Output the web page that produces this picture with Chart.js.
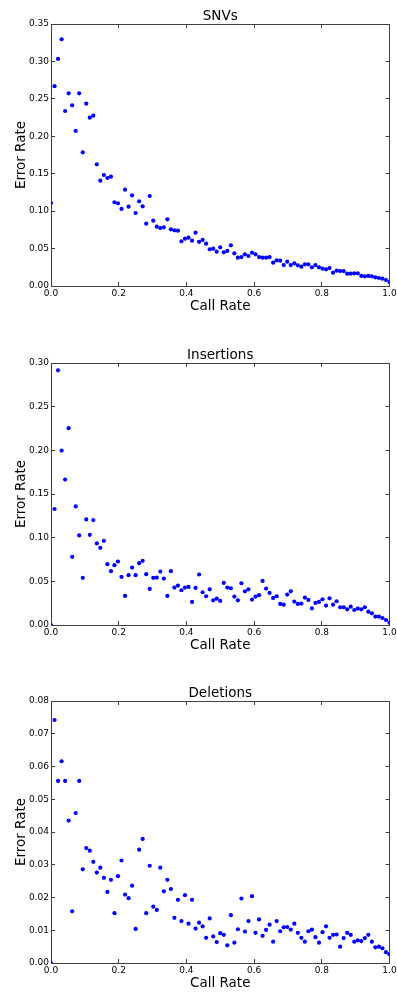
<!DOCTYPE html>
<html>
<head>
<meta charset="utf-8">
<script src="https://cdn.jsdelivr.net/npm/chart.js@4.4.1/dist/chart.umd.min.js"></script>
<style>
  html, body { margin: 0; padding: 0; background: #fff; overflow: hidden; }
  .panel { position: absolute; left: 0; width: 397px; height: 320px; }
</style>
</head>
<body>
<div class="panel" style="top:0px"><canvas id="snvChart" width="397" height="320"></canvas></div>
<div class="panel" style="top:339px"><canvas id="insChart" width="397" height="320"></canvas></div>
<div class="panel" style="top:677px"><canvas id="delChart" width="397" height="320"></canvas></div>
<script>
// Call-rate thresholds shared by all three panels
const callRate = [
  0, 0.0104, 0.0208, 0.0313, 0.0417, 0.0521, 0.0625, 0.0729, 0.0833, 0.0938,
  0.1042, 0.1146, 0.125, 0.1354, 0.1458, 0.1563, 0.1667, 0.1771, 0.1875, 0.1979,
  0.2083, 0.2188, 0.2292, 0.2396, 0.25, 0.2604, 0.2708, 0.2813, 0.2917, 0.3021,
  0.3125, 0.3229, 0.3333, 0.3438, 0.3542, 0.3646, 0.375, 0.3854, 0.3958, 0.4063,
  0.4167, 0.4271, 0.4375, 0.4479, 0.4583, 0.4688, 0.4792, 0.4896, 0.5, 0.5104,
  0.5208, 0.5313, 0.5417, 0.5521, 0.5625, 0.5729, 0.5833, 0.5938, 0.6042, 0.6146,
  0.625, 0.6354, 0.6458, 0.6563, 0.6667, 0.6771, 0.6875, 0.6979, 0.7083, 0.7188,
  0.7292, 0.7396, 0.75, 0.7604, 0.7708, 0.7813, 0.7917, 0.8021, 0.8125, 0.8229,
  0.8333, 0.8438, 0.8542, 0.8646, 0.875, 0.8854, 0.8958, 0.9063, 0.9167, 0.9271,
  0.9375, 0.9479, 0.9583, 0.9688, 0.9792, 0.9896, 1
];

// Error rate per call-rate threshold
const snvError = [
  0.1109, 0.267, 0.3033, 0.3295, 0.2338, 0.2574, 0.2413, 0.2071, 0.2574, 0.1786,
  0.2436, 0.2249, 0.2275, 0.1625, 0.1407, 0.1483, 0.1443, 0.1461, 0.1118, 0.1104,
  0.1029, 0.1287, 0.106, 0.1211, 0.0975, 0.1131, 0.1064, 0.0833, 0.1202, 0.0873,
  0.0793, 0.0775, 0.0784, 0.0891, 0.0757, 0.0744, 0.0739, 0.0597, 0.0632, 0.0646,
  0.0606, 0.0712, 0.059, 0.0615, 0.0566, 0.049, 0.0499, 0.0459, 0.0517, 0.045,
  0.0468, 0.0543, 0.0436, 0.0378, 0.0387, 0.0423, 0.0401, 0.0445, 0.0423, 0.0387,
  0.0378, 0.0378, 0.0387, 0.0312, 0.0343, 0.0338, 0.028, 0.0325, 0.028, 0.0303,
  0.0276, 0.0258, 0.0289, 0.0289, 0.0249, 0.028, 0.0249, 0.0232, 0.0223, 0.024,
  0.0178, 0.0205, 0.02, 0.02, 0.0165, 0.0165, 0.0169, 0.0169, 0.0134, 0.0129,
  0.0134, 0.0129, 0.0116, 0.0107, 0.0098, 0.008, 0.0053
];

const insError = [
  0, 0.1328, 0.2916, 0.1997, 0.1665, 0.2254, 0.0781, 0.1358, 0.1026, 0.054,
  0.1209, 0.1033, 0.1202, 0.0934, 0.0884, 0.0964, 0.0696, 0.0616, 0.0685, 0.0727,
  0.0551, 0.0333, 0.057, 0.0658, 0.057, 0.0708, 0.0735, 0.0582, 0.0413, 0.054,
  0.0543, 0.0612, 0.0532, 0.0333, 0.0616, 0.0429, 0.0452, 0.0398, 0.0429, 0.0436,
  0.0264, 0.0425, 0.0578, 0.0375, 0.0329, 0.0409, 0.0283, 0.0302, 0.0276, 0.0482,
  0.0429, 0.0421, 0.0325, 0.0283, 0.0478, 0.0386, 0.0409, 0.0291, 0.0325, 0.0341,
  0.0505, 0.0417, 0.0367, 0.031, 0.0329, 0.0241, 0.0233, 0.0348, 0.0386, 0.0268,
  0.0241, 0.0245, 0.0314, 0.0287, 0.0191, 0.0253, 0.0264, 0.0295, 0.0222, 0.0306,
  0.0233, 0.0272, 0.0203, 0.0203, 0.018, 0.021, 0.0172, 0.0188, 0.018, 0.0203,
  0.0153, 0.0134, 0.0096, 0.0096, 0.008, 0.0057, 0.0027
];

const delError = [
  0, 0.0742, 0.0556, 0.0616, 0.0556, 0.0435, 0.0158, 0.0458, 0.0556, 0.0286,
  0.0351, 0.0343, 0.0309, 0.0276, 0.0291, 0.026, 0.0217, 0.0254, 0.0152, 0.0265,
  0.0313, 0.0209, 0.0198, 0.0236, 0.0104, 0.0346, 0.0379, 0.0152, 0.0297, 0.0172,
  0.0162, 0.0291, 0.0219, 0.0254, 0.0226, 0.0138, 0.0193, 0.0128, 0.0207, 0.012,
  0.0193, 0.0105, 0.0123, 0.0112, 0.0077, 0.0136, 0.0081, 0.0064, 0.0091, 0.0086,
  0.0054, 0.0146, 0.0062, 0.0103, 0.0197, 0.0096, 0.0128, 0.0204, 0.0092, 0.0133,
  0.0083, 0.0101, 0.0117, 0.0065, 0.0128, 0.0097, 0.0109, 0.011, 0.0102, 0.012,
  0.0092, 0.0077, 0.0065, 0.0097, 0.0102, 0.0079, 0.0062, 0.0094, 0.0112, 0.0077,
  0.0086, 0.0087, 0.005, 0.0076, 0.0092, 0.0086, 0.0065, 0.0069, 0.0067, 0.0076,
  0.0086, 0.0065, 0.0048, 0.005, 0.0045, 0.0033, 0.0027
];

// Axis ranges for each panel: [max, step]
const snvAxis = [0.35, 0.05];
const insAxis = [0.30, 0.05];
const delAxis = [0.08, 0.01];

const FONT = "'DejaVu Sans', 'Bitstream Vera Sans', sans-serif";
const SPINE = '#404040';

// Spine with short tick marks pointing into the plot area
function frameGrid() {
  return {
    display: true,
    drawOnChartArea: false,
    drawTicks: true,
    tickLength: -4,
    tickWidth: 1,
    tickColor: SPINE,
    color: SPINE
  };
}
function frameBorder() {
  return { display: true, color: SPINE, width: 1 };
}

function makePanel(canvasId, title, values, axis) {
  const [yMax, yStep] = axis;
  const points = callRate.map((x, i) => ({ x: x, y: values[i] }));
  const xRange = { type: 'linear', min: 0, max: 1 };
  const yRange = { type: 'linear', min: 0, max: yMax };
  return new Chart(document.getElementById(canvasId), {
    type: 'scatter',
    data: {
      datasets: [{
        data: points,
        xAxisID: 'x',
        yAxisID: 'y',
        pointRadius: 2.1,
        pointHoverRadius: 2.1,
        pointBackgroundColor: '#0000ff',
        pointBorderColor: '#0000ff',
        pointBorderWidth: 0,
        showLine: false
      }]
    },
    options: {
      responsive: false,
      animation: false,
      events: [],
      layout: { padding: { left: 0, right: 7.5, top: 0, bottom: 0 } },
      plugins: {
        legend: { display: false },
        tooltip: { enabled: false },
        title: {
          display: true,
          fullSize: false,
          text: title,
          color: '#000',
          font: { family: FONT, size: 13.5, weight: 'normal', lineHeight: 1.0 },
          padding: { top: 9.5, bottom: 1 }
        }
      },
      scales: {
        x: {
          ...xRange,
          position: 'bottom',
          grid: frameGrid(),
          border: frameBorder(),
          ticks: {
            stepSize: 0.2,
            padding: 6.5,
            color: '#000',
            maxRotation: 0,
            font: { family: FONT, size: 9 },
            callback: v => v.toFixed(1)
          },
          title: {
            display: true,
            text: 'Call Rate',
            color: '#000',
            font: { family: FONT, size: 13.5, lineHeight: 1.0 },
            padding: { top: 0, bottom: 7.25 }
          },
          afterFit(scale) {
            scale.height = 34;
            // end labels may overhang the plot edges
            scale.paddingLeft = 0;
            scale.paddingRight = 0;
          }
        },
        xTop: {
          ...xRange,
          position: 'top',
          grid: frameGrid(),
          border: frameBorder(),
          ticks: { display: false, stepSize: 0.2 },
          afterFit(scale) { scale.height = 0; }
        },
        y: {
          ...yRange,
          position: 'left',
          grid: frameGrid(),
          border: frameBorder(),
          ticks: {
            stepSize: yStep,
            padding: 6,
            color: '#000',
            font: { family: FONT, size: 9 },
            callback: v => v.toFixed(2)
          },
          title: {
            display: true,
            text: 'Error Rate',
            color: '#000',
            font: { family: FONT, size: 13.5, lineHeight: 1.0 },
            padding: { top: 15, bottom: 0 }
          },
          afterFit(scale) { scale.width = 51; }
        },
        yRight: {
          ...yRange,
          position: 'right',
          grid: frameGrid(),
          border: frameBorder(),
          ticks: { display: false, stepSize: yStep },
          afterFit(scale) { scale.width = 0; }
        }
      }
    }
  });
}

makePanel('snvChart', 'SNVs', snvError, snvAxis);
makePanel('insChart', 'Insertions', insError, insAxis);
makePanel('delChart', 'Deletions', delError, delAxis);
</script>
</body>
</html>
